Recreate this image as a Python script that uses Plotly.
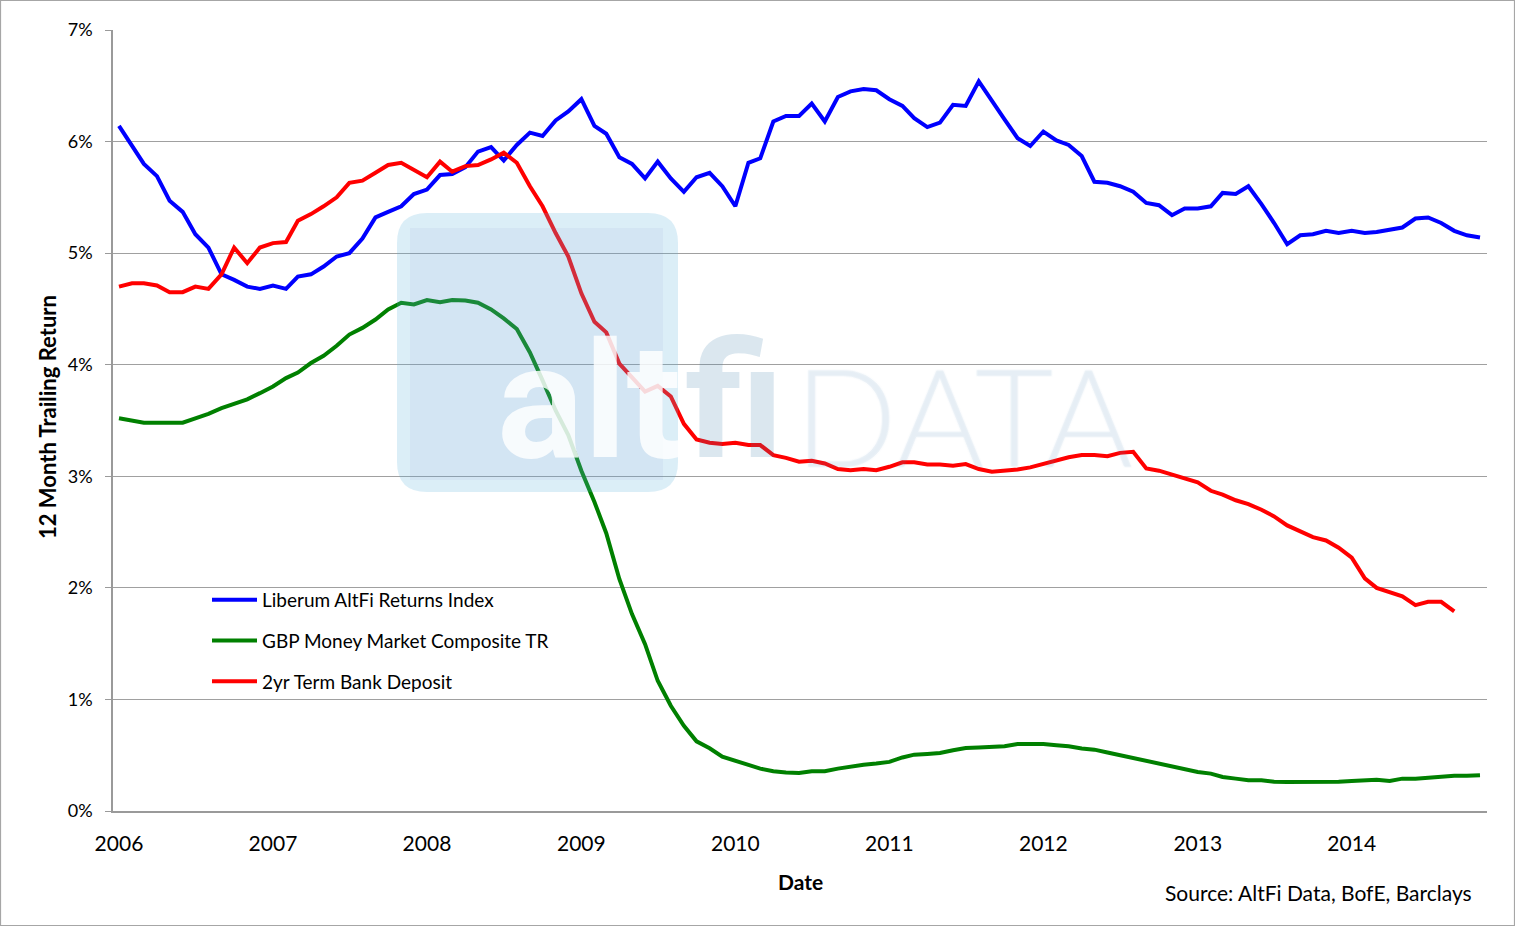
import pandas as pd
import plotly.graph_objects as go

# ---------------- data (12 month trailing return, %) ----------------
liberum = [6.14, 5.96, 5.80, 5.69, 5.47, 5.37, 5.17, 5.05, 4.81, 4.76, 4.70, 4.68,
           4.71, 4.68, 4.79, 4.81, 4.88, 4.97, 5.00, 5.13, 5.32, 5.37, 5.42, 5.53,
           5.57, 5.70, 5.71, 5.77, 5.91, 5.95, 5.83, 5.97, 6.08, 6.05, 6.19, 6.27,
           6.38, 6.14, 6.07, 5.86, 5.80, 5.67, 5.82, 5.67, 5.55, 5.68, 5.72, 5.60,
           5.42, 5.81, 5.85, 6.18, 6.23, 6.23, 6.34, 6.18, 6.40, 6.45, 6.47, 6.46,
           6.38, 6.32, 6.21, 6.13, 6.17, 6.33, 6.32, 6.54, 6.36, 6.20, 6.03, 5.96,
           6.09, 6.01, 5.97, 5.87, 5.64, 5.63, 5.60, 5.55, 5.45, 5.43, 5.34, 5.40,
           5.40, 5.42, 5.54, 5.53, 5.60, 5.44, 5.27, 5.08, 5.16, 5.17, 5.20, 5.18,
           5.20, 5.18, 5.19, 5.21, 5.23, 5.31, 5.32, 5.27, 5.20, 5.16, 5.14]

gbp_mm = [3.52, 3.50, 3.48, 3.48, 3.48, 3.48, 3.52, 3.56, 3.61, 3.65, 3.69, 3.745,
          3.805, 3.88, 3.93, 4.015, 4.08, 4.17, 4.27, 4.33, 4.405, 4.495, 4.555, 4.54,
          4.58, 4.56, 4.58, 4.575, 4.555, 4.495, 4.415, 4.32, 4.11, 3.86, 3.59, 3.37,
          3.05, 2.77, 2.49, 2.08, 1.765, 1.495, 1.167, 0.943, 0.764, 0.624, 0.562, 0.487,
          0.446, 0.413, 0.38, 0.356, 0.345, 0.34, 0.357, 0.357, 0.38, 0.40, 0.415, 0.425,
          0.44, 0.48, 0.505, 0.512, 0.52, 0.545, 0.565, 0.57, 0.575, 0.58, 0.60, 0.60,
          0.60, 0.59, 0.58, 0.56, 0.55, 0.525, 0.50, 0.47, 0.445, 0.42, 0.395, 0.37,
          0.35, 0.335, 0.305, 0.29, 0.275, 0.275, 0.262, 0.26, 0.26, 0.26, 0.26, 0.262,
          0.27, 0.272, 0.28, 0.27, 0.29, 0.29, 0.30, 0.31, 0.315, 0.315, 0.32]

deposit = [4.70, 4.73, 4.73, 4.71, 4.65, 4.65, 4.70, 4.68, 4.81, 5.05, 4.91, 5.05,
           5.09, 5.10, 5.29, 5.35, 5.42, 5.50, 5.63, 5.65, 5.72, 5.79, 5.81, 5.75,
           5.68, 5.82, 5.73, 5.78, 5.79, 5.84, 5.90, 5.81, 5.60, 5.42, 5.18, 4.97,
           4.64, 4.385, 4.29, 4.01, 3.89, 3.76, 3.81, 3.715, 3.47, 3.33, 3.30, 3.29,
           3.30, 3.28, 3.28, 3.19, 3.165, 3.13, 3.14, 3.115, 3.065, 3.055, 3.065, 3.055,
           3.085, 3.125, 3.125, 3.105, 3.105, 3.095, 3.11, 3.065, 3.04, 3.05, 3.06, 3.08,
           3.11, 3.145, 3.17, 3.19, 3.19, 3.18, 3.21, 3.22, 3.07, 3.05, 3.015, 2.98,
           2.945, 2.87, 2.835, 2.785, 2.75, 2.70, 2.64, 2.56, 2.505, 2.455, 2.425, 2.36,
           2.27, 2.085, 2.00, 1.965, 1.925, 1.845, 1.875, 1.875, 1.79]

months = pd.date_range("2006-01-01", periods=len(liberum), freq="MS")
year_ticks = [f"{y}-01-01" for y in range(2006, 2015)]
year_labels = [str(y) for y in range(2006, 2015)]
y_ticks = [0, 1, 2, 3, 4, 5, 6, 7]
y_labels = [f"{v}%" for v in y_ticks]

series_names = ["Liberum AltFi Returns Index", "GBP Money Market Composite TR", "2yr Term Bank Deposit"]

# ---------------- layout geometry ----------------
W, H = 1515, 926
L, R, T, B = 113, 1487, 30, 811
PW, PH = R - L, B - T


def px(x):
    return (x - L) / PW


def py(y):
    return (B - y) / PH


FONT = "Lato"

fig = go.Figure()
fig.add_trace(go.Scatter(x=months, y=gbp_mm, mode="lines", name=series_names[1],
                         line=dict(color="#008000", width=4), legendgroup="g2", legendrank=2))
fig.add_trace(go.Scatter(x=months, y=liberum, mode="lines", name=series_names[0],
                         line=dict(color="#0000ff", width=4), legendgroup="g1", legendrank=1))
fig.add_trace(go.Scatter(x=months[:len(deposit)], y=deposit, mode="lines", name=series_names[2],
                         line=dict(color="#ff0000", width=4), legendgroup="g3", legendrank=3))

# ---------------- watermark ----------------
bx0, bx1, by0, by1 = px(397), px(678), py(492), py(213)
rx, ry = 30 / PW, 30 / PH
box_path = (f"M{bx0 + rx},{by0} L{bx1 - rx},{by0} Q{bx1},{by0} {bx1},{by0 + ry} "
            f"L{bx1},{by1 - ry} Q{bx1},{by1} {bx1 - rx},{by1} L{bx0 + rx},{by1} "
            f"Q{bx0},{by1} {bx0},{by1 - ry} L{bx0},{by0 + ry} Q{bx0},{by0} {bx0 + rx},{by0} Z")

shapes = [
    dict(type="path", path=box_path, xref="paper", yref="paper", layer="above",
         fillcolor="rgba(91,179,219,0.22)", line=dict(width=0)),
    dict(type="rect", xref="paper", yref="paper", x0=px(410), x1=px(663), y0=py(480), y1=py(228),
         layer="above", fillcolor="rgba(120,110,200,0.07)", line=dict(width=0)),
    # outer chart border
    dict(type="rect", xref="paper", yref="paper", x0=px(0.5), x1=px(W - 0.5), y0=py(H - 0.5), y1=py(0.5),
         layer="below", line=dict(color="#a6a6a6", width=1.2), fillcolor="rgba(0,0,0,0)"),
]

outline = "rgba(140,180,220,0.35)"
annotations = [
    dict(text="<b>alt</b>", x=px(496), y=py(402), xref="paper", yref="paper", xanchor="left",
         yanchor="middle", showarrow=False, borderpad=0,
         font=dict(family="Roboto", size=162, color="rgba(255,255,255,0.82)")),
    dict(text="<b>fi</b>", x=px(684), y=py(402), xref="paper", yref="paper", xanchor="left",
         yanchor="middle", showarrow=False, borderpad=0,
         font=dict(family="Roboto", size=162, color="rgba(65,129,170,0.19)")),
    dict(text="DATA", x=px(792), y=py(414), xref="paper", yref="paper", xanchor="left",
         yanchor="middle", showarrow=False,
         font=dict(family="Lato", size=136, weight=300, color="rgba(65,129,170,0.07)",
                   shadow=f"1px 1px 0 {outline}, -1px -1px 0 {outline}, "
                          f"1px -1px 0 {outline}, -1px 1px 0 {outline}")),
    # axis titles and source
    dict(text="<b>12 Month Trailing Return</b>", x=px(48), y=py(417), xref="paper", yref="paper",
         textangle=-90, showarrow=False, xanchor="center", yanchor="middle",
         font=dict(family=FONT, size=22, color="#000000")),
    dict(text="<b>Date</b>", x=px(800), y=py(882), xref="paper", yref="paper",
         showarrow=False, xanchor="center", yanchor="middle",
         font=dict(family=FONT, size=21, color="#000000")),
    dict(text="Source: AltFi Data, BofE, Barclays", x=px(1474), y=py(892), xref="paper", yref="paper",
         showarrow=False, xanchor="right", yanchor="middle",
         font=dict(family=FONT, size=21, color="#000000")),
]

fig.update_layout(
    width=W, height=H,
    margin=dict(l=L, r=W - R, t=T, b=H - B, pad=0),
    paper_bgcolor="white", plot_bgcolor="white",
    font=dict(family=FONT, color="#000000"),
    showlegend=True,
    legend=dict(x=px(207), y=py(581), xanchor="left", yanchor="top",
                bgcolor="rgba(0,0,0,0)", font=dict(family=FONT, size=19, color="#000000"),
                traceorder="grouped", tracegroupgap=13, itemwidth=45),
    shapes=shapes,
    annotations=annotations,
)

fig.update_xaxes(
    range=["2005-12-17 20:00", "2014-11-17 15:00"],
    tickvals=year_ticks, ticktext=year_labels,
    showgrid=False, zeroline=False,
    showline=True, linecolor="#9a9a9a", linewidth=1.5,
    ticks="", ticklabelstandoff=13,
    tickfont=dict(family=FONT, size=21, color="#000000"),
)
fig.update_yaxes(
    range=[0, 7], tickvals=y_ticks, ticktext=y_labels,
    showgrid=True, gridcolor="#a0a0a0", gridwidth=1.4,
    zeroline=False, showline=True, linecolor="#9a9a9a", linewidth=1.5,
    ticks="outside", ticklen=6, tickcolor="#9a9a9a", tickwidth=1.4,
    ticklabelstandoff=9,
    tickfont=dict(family=FONT, size=18, color="#000000"),
)

fig.write_html("out.html", config={"displayModeBar": False},
               post_script="document.body.style.margin='0';document.body.style.padding='0';")
